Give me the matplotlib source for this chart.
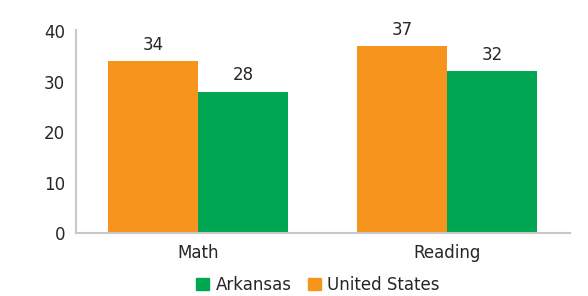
import matplotlib.pyplot as plt
import numpy as np
from matplotlib.patches import Patch

subjects = ["Math", "Reading"]
us_vals = [34, 37]
ar_vals = [28, 32]

orange = "#F7941D"
green = "#00A651"

plt.rcParams['font.family'] = ['DejaVu Sans']

fig = plt.figure(figsize=(5.88, 2.96), dpi=100)
ax = fig.add_axes([76/588, 1-233/296, 494/588, 203/296])

x = np.arange(len(subjects))
w = 0.361
b1 = ax.bar(x - w/2, us_vals, w, color=orange)
b2 = ax.bar(x + w/2, ar_vals, w, color=green)

# value labels above each bar
for bars in (b1, b2):
    for r in bars:
        ax.text(r.get_x() + r.get_width()/2, r.get_height() + 1.5, f"{r.get_height():.0f}",
                ha='center', va='bottom', fontsize=12, color='#262626')

ax.set_xlim(-0.49, 1.494)
ax.set_ylim(0, 40.2)
ax.set_yticks([0, 10, 20, 30, 40])
ax.set_xticks(x)
ax.set_xticklabels(subjects)
ax.tick_params(axis='both', length=0, labelsize=12, colors='#262626')
ax.tick_params(axis='y', pad=8)
ax.tick_params(axis='x', pad=8)

for s in ['top', 'right']:
    ax.spines[s].set_visible(False)
for s in ['left', 'bottom']:
    ax.spines[s].set_color('#c8c8c8')
    ax.spines[s].set_linewidth(1.5)

handles = [Patch(color=green, label="Arkansas"), Patch(color=orange, label="United States")]
fig.legend(handles=handles, loc='center', bbox_to_anchor=(318/588, 1-285/296), ncol=2,
           frameon=False, fontsize=12, handlelength=0.75, handleheight=0.75,
           handletextpad=0.4, columnspacing=1.0, labelcolor='#262626')

fig.savefig("out.png", dpi=100)
